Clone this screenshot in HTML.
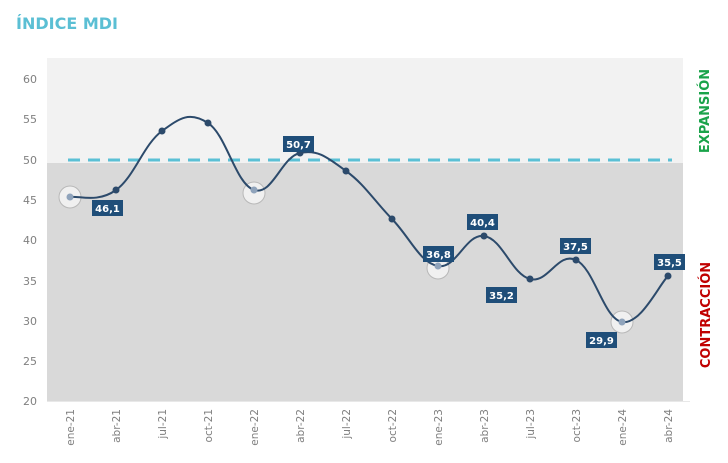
<!DOCTYPE html>
<html><head><meta charset="utf-8"><style>
body{margin:0;background:#fff;width:728px;height:459px;overflow:hidden;font-family:"DejaVu Sans","Liberation Sans",sans-serif}
</style></head><body>
<svg width="728" height="459" xmlns="http://www.w3.org/2000/svg" font-family="DejaVu Sans, Liberation Sans, sans-serif">
<text x="16" y="29" font-size="16" font-weight="bold" fill="#5bbfd4">ÍNDICE MDI</text>
<rect x="47" y="58" width="636" height="105" fill="#f2f2f2"/>
<rect x="47" y="163" width="636" height="238" fill="#d9d9d9"/>
<line x1="47" y1="401.5" x2="690" y2="401.5" stroke="#e8e8e8" stroke-width="1"/>
<g font-size="11" fill="#808080" text-anchor="end">
<text x="37" y="83">60</text><text x="37" y="123">55</text><text x="37" y="164">50</text><text x="37" y="204">45</text><text x="37" y="244">40</text><text x="37" y="285">35</text><text x="37" y="325">30</text><text x="37" y="365">25</text><text x="37" y="405">20</text>
</g>
<line x1="68" y1="160" x2="672" y2="160" stroke="#5bc0d5" stroke-width="3" stroke-dasharray="12 8"/>
<g id="xl" font-size="10.5" fill="#808080" text-anchor="end"></g>
<g fill="#f0f0f0" stroke="#b8b8b8" stroke-width="1">
<circle cx="70" cy="197" r="11"/><circle cx="254" cy="193" r="11"/><circle cx="438" cy="268" r="11"/><circle cx="622" cy="322" r="11"/>
</g>
<path id="ln" fill="none" stroke="#2c4a6b" stroke-width="2"/>
<g id="pts"></g>
<g font-size="10" font-weight="bold" fill="#fff" text-anchor="middle">
<rect x="92" y="200" width="31" height="16" fill="#1f4e79"/><text x="107.5" y="212">46,1</text>
<rect x="283" y="136" width="31" height="16" fill="#1f4e79"/><text x="298.5" y="148">50,7</text>
<rect x="423" y="246" width="31" height="16" fill="#1f4e79"/><text x="438.5" y="258">36,8</text>
<rect x="467" y="214" width="31" height="16" fill="#1f4e79"/><text x="482.5" y="226">40,4</text>
<rect x="486" y="287" width="31" height="16" fill="#1f4e79"/><text x="501.5" y="299">35,2</text>
<rect x="560" y="238" width="31" height="16" fill="#1f4e79"/><text x="575.5" y="250">37,5</text>
<rect x="586" y="332" width="31" height="16" fill="#1f4e79"/><text x="601.5" y="344">29,9</text>
<rect x="654" y="254" width="31" height="16" fill="#1f4e79"/><text x="669.5" y="266">35,5</text>
</g>
<text transform="translate(709,111) rotate(-90)" font-size="13" font-weight="bold" fill="#1aa34a" text-anchor="middle">EXPANSIÓN</text>
<text transform="translate(710,315) rotate(-90)" font-size="13" font-weight="bold" fill="#c00000" text-anchor="middle">CONTRACCIÓN</text>
</svg>
<script>
var ys=[197,190,131,123,190,153,171,219,266,236,279,260,322,276];
var lb=["ene-21","abr-21","jul-21","oct-21","ene-22","abr-22","jul-22","oct-22","ene-23","abr-23","jul-23","oct-23","ene-24","abr-24"];
var p=ys.map(function(y,i){return [70+46*i,y]});
var d="M"+p[0][0]+","+p[0][1],k=5;
for(var i=0;i<p.length-1;i++){var a=p[Math.max(i-1,0)],b=p[i],c=p[i+1],e=p[Math.min(i+2,p.length-1)];
d+=" C"+(b[0]+(c[0]-a[0])/k)+","+(b[1]+(c[1]-a[1])/k)+" "+(c[0]-(e[0]-b[0])/k)+","+(c[1]-(e[1]-b[1])/k)+" "+c[0]+","+c[1];}
document.getElementById("ln").setAttribute("d",d);
var ns="http://www.w3.org/2000/svg",g=document.getElementById("pts"),xl=document.getElementById("xl");
p.forEach(function(q,i){var c=document.createElementNS(ns,"circle");c.setAttribute("cx",q[0]);c.setAttribute("cy",q[1]);c.setAttribute("r",3.5);c.setAttribute("fill",i%4==0?"#8fa3bb":"#2c4a6b");g.appendChild(c);
var t=document.createElementNS(ns,"text");t.setAttribute("transform","translate("+(q[0]+4)+",409) rotate(-90)");t.textContent=lb[i];xl.appendChild(t);});
</script>
</body></html>
